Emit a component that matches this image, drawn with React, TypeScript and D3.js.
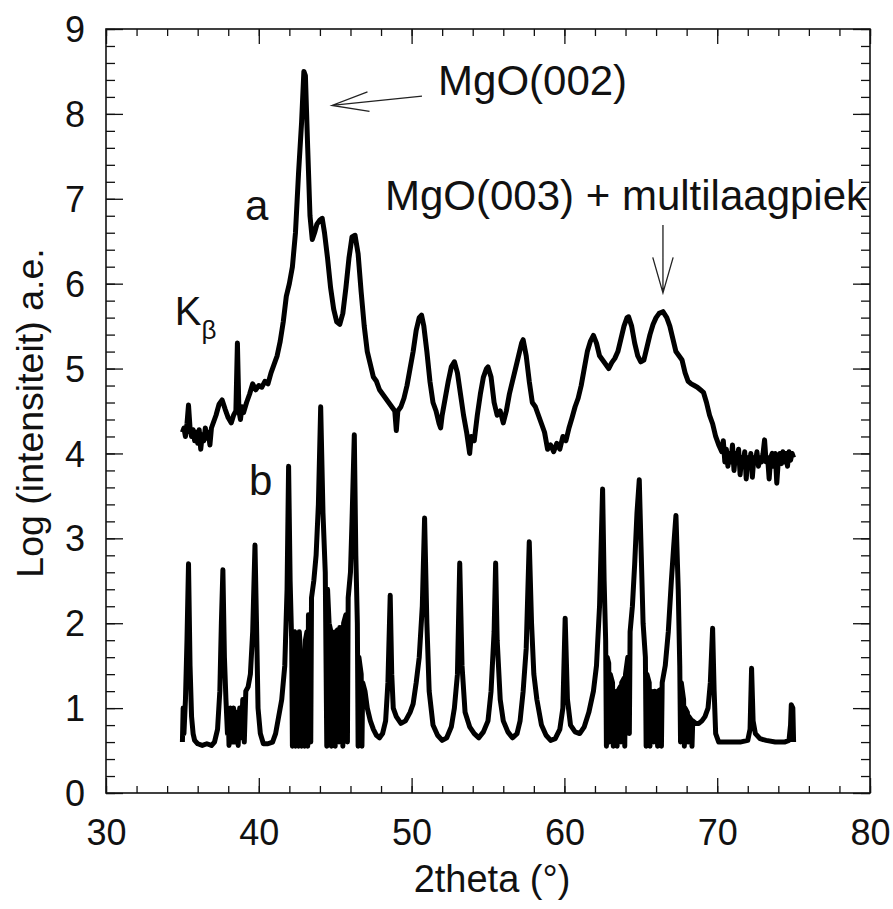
import { useEffect, useRef } from 'react'
import * as d3 from 'd3'

// trace a: Log intensity vs 2theta
const seriesA: [number, number][] = [
  [35.0, 4.25], [35.1, 4.3], [35.2, 4.2], [35.3, 4.35], [35.4, 4.57], [35.5, 4.3], [35.6, 4.2],
  [35.7, 4.28], [35.8, 4.15], [35.9, 4.25], [36.0, 4.12], [36.1, 4.28], [36.2, 4.05], [36.3, 4.22],
  [36.4, 4.15], [36.5, 4.3], [36.6, 4.18], [36.7, 4.25], [36.8, 4.1], [36.9, 4.3], [37.0, 4.35],
  [37.2, 4.45], [37.4, 4.58], [37.6, 4.63], [37.8, 4.52], [38.0, 4.42], [38.2, 4.36], [38.35, 4.45],
  [38.5, 4.5], [38.6, 5.3], [38.7, 4.5], [38.8, 4.4], [38.9, 4.55], [39.0, 4.48], [39.2, 4.6],
  [39.4, 4.7], [39.6, 4.82], [39.8, 4.75], [40.0, 4.8], [40.2, 4.78], [40.4, 4.85], [40.6, 4.82],
  [40.8, 4.95], [41.0, 5.05], [41.2, 5.15], [41.4, 5.32], [41.6, 5.55], [41.8, 5.85], [42.0, 6.0],
  [42.2, 6.2], [42.4, 6.6], [42.6, 7.3], [42.8, 7.9], [42.95, 8.5], [43.05, 8.45], [43.2, 7.6],
  [43.35, 6.8], [43.5, 6.52], [43.65, 6.6], [43.8, 6.7], [44.0, 6.75], [44.15, 6.77], [44.3, 6.6],
  [44.5, 6.3], [44.7, 5.95], [44.9, 5.7], [45.1, 5.55], [45.3, 5.52], [45.5, 5.65], [45.7, 5.95],
  [45.9, 6.3], [46.1, 6.55], [46.3, 6.57], [46.5, 6.35], [46.7, 5.9], [46.9, 5.5], [47.1, 5.2],
  [47.3, 5.05], [47.5, 4.9], [47.7, 4.85], [47.9, 4.75], [48.1, 4.7], [48.3, 4.65], [48.5, 4.6],
  [48.7, 4.55], [48.9, 4.5], [49.0, 4.27], [49.1, 4.5], [49.3, 4.55], [49.5, 4.65], [49.7, 4.8],
  [49.9, 5.0], [50.1, 5.2], [50.3, 5.45], [50.5, 5.6], [50.65, 5.63], [50.8, 5.5], [51.0, 5.2],
  [51.2, 4.85], [51.4, 4.6], [51.6, 4.5], [51.8, 4.35], [51.9, 4.3], [52.0, 4.45], [52.2, 4.65],
  [52.4, 4.85], [52.6, 5.02], [52.8, 5.08], [53.0, 4.95], [53.2, 4.7], [53.4, 4.45], [53.6, 4.25],
  [53.8, 4.0], [53.9, 4.2], [54.1, 4.15], [54.3, 4.45], [54.5, 4.7], [54.7, 4.9], [54.9, 5.0],
  [55.0, 5.02], [55.2, 4.9], [55.4, 4.6], [55.6, 4.45], [55.8, 4.5], [56.0, 4.36], [56.2, 4.5],
  [56.4, 4.7], [56.6, 4.85], [56.8, 5.0], [57.0, 5.15], [57.2, 5.3], [57.3, 5.34], [57.5, 5.15],
  [57.7, 4.85], [57.9, 4.6], [58.1, 4.55], [58.3, 4.45], [58.5, 4.35], [58.7, 4.25], [58.9, 4.05],
  [59.1, 4.1], [59.3, 4.02], [59.5, 4.12], [59.7, 4.05], [59.9, 4.2], [60.1, 4.15], [60.3, 4.3],
  [60.5, 4.42], [60.7, 4.55], [60.9, 4.65], [61.1, 4.8], [61.3, 5.0], [61.5, 5.2], [61.7, 5.32],
  [61.9, 5.39], [62.1, 5.3], [62.3, 5.15], [62.5, 5.1], [62.7, 5.05], [62.9, 5.0], [63.1, 5.07],
  [63.3, 5.12], [63.5, 5.2], [63.7, 5.35], [63.9, 5.5], [64.1, 5.6], [64.2, 5.61], [64.4, 5.5],
  [64.6, 5.3], [64.8, 5.15], [65.0, 5.08], [65.2, 5.1], [65.4, 5.25], [65.6, 5.4], [65.8, 5.52],
  [66.0, 5.6], [66.2, 5.65], [66.45, 5.67], [66.7, 5.6], [66.9, 5.5], [67.1, 5.35], [67.3, 5.2],
  [67.5, 5.15], [67.7, 5.1], [67.9, 4.95], [68.1, 4.85], [68.3, 4.82], [68.5, 4.8], [68.7, 4.78],
  [68.9, 4.75], [69.1, 4.72], [69.3, 4.6], [69.5, 4.45], [69.7, 4.35], [69.9, 4.2], [70.1, 4.1],
  [70.3, 4.02], [70.4, 4.15], [70.5, 3.9], [70.6, 4.05], [70.7, 3.85], [70.8, 4.0], [70.9, 3.9],
  [71.0, 4.1], [71.1, 3.8], [71.2, 4.0], [71.3, 3.95], [71.4, 4.05], [71.5, 3.75], [71.6, 3.95],
  [71.7, 3.88], [71.8, 4.02], [71.9, 3.7], [72.0, 3.95], [72.1, 3.85], [72.2, 4.0], [72.3, 3.72],
  [72.4, 3.95], [72.5, 3.9], [72.6, 4.02], [72.7, 3.85], [72.8, 3.95], [72.9, 3.9], [73.0, 4.0],
  [73.1, 4.16], [73.2, 3.9], [73.3, 3.95], [73.4, 3.7], [73.5, 3.95], [73.6, 4.0], [73.7, 3.85],
  [73.8, 4.0], [73.9, 3.65], [74.0, 3.92], [74.1, 4.0], [74.2, 3.88], [74.3, 4.02], [74.4, 3.9],
  [74.5, 4.0], [74.6, 3.85], [74.7, 4.02], [74.8, 3.92], [74.9, 4.0], [75.0, 3.95],
]

// trace b
const seriesB: [number, number][] = [
  [35.0, 0.6], [35.05, 1.0], [35.1, 0.7], [35.15, 0.9], [35.2, 1.1], [35.3, 1.8], [35.4, 2.7],
  [35.5, 1.5], [35.6, 0.9], [35.7, 0.7], [35.8, 0.62], [36.0, 0.58], [36.3, 0.56], [36.6, 0.58],
  [36.9, 0.56], [37.1, 0.6], [37.3, 0.75], [37.45, 1.2], [37.55, 2.0], [37.65, 2.63], [37.75, 1.6],
  [37.85, 1.1], [37.95, 0.7], [38.0, 0.95], [38.05, 0.56], [38.15, 1.0], [38.25, 0.6], [38.35, 1.0],
  [38.45, 0.6], [38.55, 0.95], [38.65, 0.56], [38.75, 1.0], [38.85, 0.65], [38.95, 1.1], [39.05, 0.6],
  [39.15, 1.2], [39.3, 1.25], [39.45, 1.4], [39.6, 1.9], [39.75, 2.92], [39.85, 2.0], [39.95, 1.0],
  [40.1, 0.7], [40.3, 0.58], [40.6, 0.58], [40.9, 0.6], [41.1, 0.7], [41.3, 0.9], [41.5, 1.1],
  [41.7, 1.5], [41.85, 2.4], [41.95, 3.85], [42.05, 2.5], [42.15, 1.8], [42.2, 0.55], [42.25, 1.85],
  [42.35, 1.9], [42.4, 0.55], [42.45, 1.8], [42.55, 1.85], [42.6, 0.55], [42.65, 1.9], [42.75, 1.6],
  [42.8, 0.55], [42.85, 1.5], [42.95, 1.6], [43.0, 0.55], [43.05, 1.8], [43.15, 1.9], [43.2, 0.55],
  [43.25, 2.1], [43.35, 2.0], [43.4, 0.6], [43.45, 2.3], [43.6, 2.5], [43.75, 2.8], [43.9, 3.4],
  [44.05, 4.55], [44.2, 3.3], [44.35, 2.6], [44.45, 0.55], [44.5, 2.4], [44.6, 2.0], [44.7, 1.92],
  [44.75, 0.55], [44.8, 1.9], [44.9, 1.85], [45.0, 0.55], [45.05, 1.9], [45.15, 1.92], [45.25, 0.6],
  [45.3, 1.95], [45.45, 1.9], [45.5, 0.55], [45.55, 2.0], [45.7, 2.1], [45.8, 0.6], [45.85, 2.3],
  [46.0, 2.6], [46.1, 3.2], [46.25, 4.22], [46.35, 2.8], [46.45, 2.0], [46.5, 0.55], [46.55, 1.6],
  [46.7, 1.4], [46.75, 0.55], [46.8, 1.3], [46.95, 1.2], [47.1, 1.0], [47.3, 0.85], [47.5, 0.75],
  [47.7, 0.68], [47.9, 0.65], [48.1, 0.7], [48.3, 0.85], [48.45, 1.3], [48.6, 2.33], [48.7, 1.4],
  [48.8, 1.0], [49.0, 0.9], [49.3, 0.82], [49.6, 0.85], [49.9, 0.95], [50.1, 1.05], [50.3, 1.3],
  [50.5, 1.6], [50.7, 2.2], [50.85, 3.24], [51.0, 2.0], [51.15, 1.2], [51.4, 0.8], [51.7, 0.68],
  [52.0, 0.62], [52.3, 0.65], [52.6, 0.78], [52.8, 1.0], [53.0, 1.4], [53.15, 2.71], [53.3, 1.5],
  [53.5, 0.95], [53.8, 0.78], [54.1, 0.7], [54.4, 0.65], [54.7, 0.72], [55.0, 0.85], [55.2, 1.2],
  [55.4, 1.9], [55.5, 2.71], [55.6, 1.8], [55.8, 1.1], [56.0, 0.85], [56.3, 0.72], [56.6, 0.65],
  [56.9, 0.7], [57.1, 0.85], [57.3, 1.2], [57.5, 1.7], [57.7, 2.96], [57.85, 2.0], [58.0, 1.4],
  [58.2, 1.1], [58.5, 0.8], [58.8, 0.68], [59.1, 0.62], [59.4, 0.64], [59.7, 0.75], [59.9, 1.0],
  [60.05, 2.06], [60.2, 1.1], [60.4, 0.8], [60.7, 0.72], [61.0, 0.7], [61.3, 0.78], [61.6, 0.95],
  [61.9, 1.2], [62.1, 1.5], [62.3, 2.2], [62.5, 3.58], [62.6, 2.5], [62.7, 1.8], [62.75, 0.55],
  [62.8, 1.6], [62.9, 1.53], [62.95, 0.6], [63.0, 1.4], [63.15, 1.3], [63.2, 0.55], [63.25, 1.2],
  [63.4, 1.18], [63.45, 0.55], [63.5, 1.2], [63.65, 1.25], [63.7, 0.6], [63.75, 1.3], [63.9, 1.35],
  [63.95, 0.55], [64.0, 1.4], [64.15, 1.6], [64.25, 0.7], [64.3, 1.9], [64.45, 2.2], [64.6, 2.7],
  [64.75, 3.3], [64.9, 3.69], [65.0, 3.0], [65.15, 2.0], [65.3, 1.6], [65.35, 0.55], [65.4, 1.4],
  [65.55, 1.3], [65.6, 0.55], [65.65, 1.2], [65.8, 1.18], [65.85, 0.6], [65.9, 1.2], [66.05, 1.15],
  [66.1, 0.55], [66.15, 1.2], [66.3, 1.22], [66.35, 0.55], [66.4, 1.3], [66.6, 1.5], [66.8, 1.9],
  [67.0, 2.5], [67.15, 2.9], [67.3, 3.27], [67.45, 2.4], [67.55, 1.5], [67.6, 0.6], [67.65, 1.3],
  [67.8, 1.1], [67.85, 0.55], [67.9, 1.0], [68.05, 0.95], [68.1, 0.6], [68.15, 0.9], [68.3, 0.86],
  [68.35, 0.55], [68.4, 0.85], [68.6, 0.82], [68.8, 0.82], [69.0, 0.85], [69.2, 0.9], [69.4, 1.0],
  [69.55, 1.3], [69.7, 1.94], [69.8, 1.2], [69.9, 0.7], [70.1, 0.6], [70.5, 0.6], [71.0, 0.6],
  [71.5, 0.6], [72.0, 0.62], [72.15, 0.75], [72.25, 1.47], [72.35, 0.85], [72.5, 0.7], [72.8, 0.64],
  [73.2, 0.62], [73.8, 0.6], [74.4, 0.6], [74.7, 0.62], [74.8, 0.8], [74.85, 1.04], [74.95, 1.0],
  [75.0, 0.6],
]

const xMajor = [30, 40, 50, 60, 70, 80]
const xMinor = d3.range(30, 80.01, 2)
const yMajor = [0, 1, 2, 3, 4, 5, 6, 7, 8, 9]
const yMinor = d3.range(0, 9.001, 0.2)

const W = 893
const H = 909
const FONT = '"Liberation Sans", Arial, Helvetica, sans-serif'

export default function App() {
  const svgRef = useRef<SVGSVGElement>(null)

  useEffect(() => {
    if (!svgRef.current) return
    const margin = { top: 29, right: 23, bottom: 116, left: 106 }
    const iw = W - margin.left - margin.right
    const ih = H - margin.top - margin.bottom

    const svg = d3.select(svgRef.current)
    svg.selectAll('*').remove()
    svg.append('rect').attr('width', W).attr('height', H).attr('fill', '#fff')

    const g = svg.append('g').attr('transform', `translate(${margin.left},${margin.top})`)

    const x = d3.scaleLinear().domain([30, 80]).range([0, iw])
    const y = d3.scaleLinear().domain([0, 9]).range([ih, 0])

    const style = (sel: any) => {
      sel.select('.domain').remove()
      sel.selectAll('line').attr('stroke', '#111').attr('stroke-width', 1.3)
      sel.selectAll('text')
        .attr('fill', '#111')
        .attr('font-family', FONT)
        .attr('font-size', 36)
    }

    // minor ticks on all four sides (inward)
    g.append('g').attr('transform', `translate(0,${ih})`)
      .call(d3.axisBottom(x).tickValues(xMinor).tickSize(-7).tickFormat(() => ''))
      .call(style)
    g.append('g')
      .call(d3.axisTop(x).tickValues(xMinor).tickSize(-7).tickFormat(() => ''))
      .call(style)
    g.append('g')
      .call(d3.axisLeft(y).tickValues(yMinor).tickSize(-9).tickFormat(() => ''))
      .call(style)
    g.append('g').attr('transform', `translate(${iw},0)`)
      .call(d3.axisRight(y).tickValues(yMinor).tickSize(-9).tickFormat(() => ''))
      .call(style)

    // major ticks + labels
    const xb = g.append('g').attr('transform', `translate(0,${ih})`)
      .call(d3.axisBottom(x).tickValues(xMajor).tickSize(-15).tickFormat(d3.format('d') as never))
      .call(style)
    xb.selectAll('text').attr('y', 52).attr('dy', 0)
    g.append('g')
      .call(d3.axisTop(x).tickValues(xMajor).tickSize(-15).tickFormat(() => ''))
      .call(style)
    const yl = g.append('g')
      .call(d3.axisLeft(y).tickValues(yMajor).tickSize(-17).tickFormat(d3.format('d') as never))
      .call(style)
    yl.selectAll('text').attr('x', -21).attr('dy', '0.35em')
    g.append('g').attr('transform', `translate(${iw},0)`)
      .call(d3.axisRight(y).tickValues(yMajor).tickSize(-17).tickFormat(() => ''))
      .call(style)

    // frame
    g.append('rect')
      .attr('width', iw).attr('height', ih)
      .attr('fill', 'none').attr('stroke', '#111').attr('stroke-width', 1.6)

    const line = d3.line<[number, number]>()
      .x(d => x(d[0]))
      .y(d => y(d[1]))

    g.append('path')
      .datum(seriesA)
      .attr('fill', 'none')
      .attr('stroke', '#000')
      .attr('stroke-width', 5)
      .attr('stroke-linejoin', 'round')
      .attr('d', line)

    g.append('path')
      .datum(seriesB)
      .attr('fill', 'none')
      .attr('stroke', '#000')
      .attr('stroke-width', 5)
      .attr('stroke-linejoin', 'round')
      .attr('d', line)

    // annotations
    const label = (tx: number, ty: number, txt: string, size = 42) =>
      g.append('text')
        .attr('x', x(tx)).attr('y', y(ty))
        .attr('font-family', FONT).attr('font-size', size).attr('fill', '#111')
        .text(txt)

    label(39.1, 6.75, 'a')
    label(39.36, 3.51, 'b')
    label(51.73, 8.22, 'MgO(002)')
    label(48.26, 6.87, 'MgO(003) + multilaagpiek')

    const kb = g.append('text')
      .attr('x', x(34.5)).attr('y', y(5.51))
      .attr('font-family', FONT).attr('font-size', 40).attr('fill', '#111')
    kb.append('tspan').text('K')
    kb.append('tspan').attr('font-size', 26).attr('dy', 14).text('β')

    const arrow = (from: [number, number], to: [number, number], len = 38, ang = 15) => {
      const x0 = x(from[0]), y0 = y(from[1])
      const x1 = x(to[0]), y1 = y(to[1])
      const a = Math.atan2(y0 - y1, x0 - x1)
      const r = (ang * Math.PI) / 180
      const path = d3.path()
      path.moveTo(x0, y0)
      path.lineTo(x1, y1)
      path.moveTo(x1 + len * Math.cos(a - r), y1 + len * Math.sin(a - r))
      path.lineTo(x1, y1)
      path.lineTo(x1 + len * Math.cos(a + r), y1 + len * Math.sin(a + r))
      g.append('path')
        .attr('d', path.toString())
        .attr('fill', 'none')
        .attr('stroke', '#222')
        .attr('stroke-width', 1.3)
    }
    arrow([50.68, 8.21], [44.79, 8.1])
    arrow([66.45, 6.69], [66.45, 5.89], 37, 16)

    // axis titles
    svg.append('text')
      .attr('x', 492).attr('y', 892)
      .attr('text-anchor', 'middle')
      .attr('font-family', FONT).attr('font-size', 38).attr('fill', '#111')
      .text('2theta (°)')
    svg.append('text')
      .attr('transform', 'translate(43,413) rotate(-90)')
      .attr('text-anchor', 'middle')
      .attr('font-family', FONT).attr('font-size', 37.5).attr('fill', '#111')
      .text('Log (intensiteit) a.e.')
  }, [])

  return (
    <svg
      ref={svgRef}
      width={W}
      height={H}
      style={{ position: 'absolute', left: 0, top: 0, display: 'block' }}
    />
  )
}
